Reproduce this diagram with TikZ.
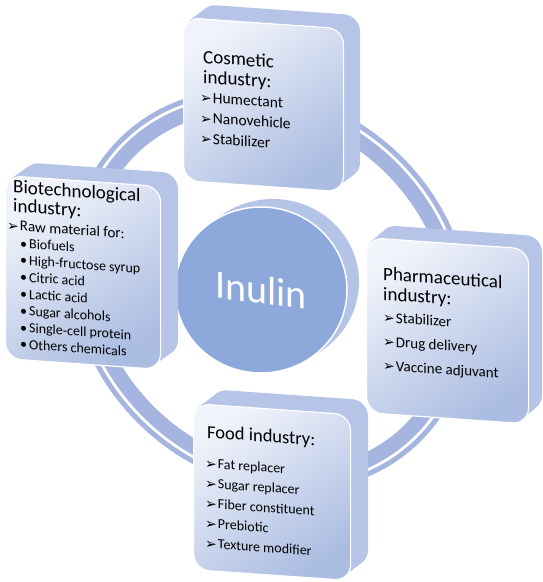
\documentclass[tikz,border=0pt]{standalone}
\usepackage{fontspec}
\setmainfont{Carlito}
\newfontfamily\dejavu{DejaVu Sans}
\usetikzlibrary{shapes.geometric}
\definecolor{ringc}{HTML}{A6B5DF}
\definecolor{sidec}{HTML}{B5C4E7}
\definecolor{facetop}{HTML}{F0F3FA}
\definecolor{facebot}{HTML}{ABBDE2}
\definecolor{circc}{HTML}{8DA8DB}
\definecolor{circside}{HTML}{B3C4E7}
\newcommand\arrmark{\raisebox{-0.5pt}{\dejavu\fontsize{14}{14}\selectfont ➢}\hspace{1pt}}
\begin{document}
\begin{tikzpicture}[x=1pt,y=1pt,
  face/.style={rounded corners=16pt, top color=facetop, bottom color=facebot,
    shading angle=35, draw=white, line width=1.2pt, inner sep=0pt, anchor=north west, transform shape},
  sideface/.style={fill=sidec, rounded corners=16pt},
  ttl/.style={anchor=base west, transform shape, font=\fontsize{19}{19}\selectfont, inner sep=0pt},
  itm/.style={anchor=base west, transform shape, inner sep=0pt},
]
\useasboundingbox (0,0) rectangle (542,-582);

% ring
\begin{scope}[rotate around={-45:(270,-290)}]
  \draw[ringc, line width=5pt] (270,-290) ellipse [x radius=211pt, y radius=185pt];
  \draw[ringc, line width=15pt] (270,-290) ellipse [x radius=198pt, y radius=172pt];
\end{scope}

% central circle
\foreach \t in {1,...,12}
  \fill[circside] ({261+12*\t/12},{-290+8*\t/12}) ellipse [x radius=86pt, y radius=83pt];
\node[ellipse, draw=white, line width=1.5pt, fill=circc, minimum width=172pt,
  minimum height=166pt, inner sep=0pt] (inulin) at (261,-290) {};
\begin{scope}[shift={(inulin.center)}, yslant=-0.13]
  \node[text=white, font=\fontsize{40}{40}\selectfont, transform shape] (inulinlbl) at (0,0) {Inulin};
\end{scope}

% Cosmetic
\begin{scope}[shift={(183,-17)}, yslant=-0.07]
  \foreach \t in {1,...,14}
    \fill[sideface] ({17*\t/14},{14*\t/14}) rectangle ++(160,-163);
  \node[face, minimum width=160pt, minimum height=163pt] (cosmetic) at (0,0) {};
  \node[ttl] (cos1) at (20,-44.6) {Cosmetic};
  \node[ttl] (cos2) at (20,-64.6) {industry:};
  \foreach \s [count=\i] in {Humectant,Nanovehicle,Stabilizer}
    \node[itm, font=\fontsize{15.5}{15.5}\selectfont] (cosi\i) at (17,{-84-20.5*(\i-1)}) {\arrmark\s};
\end{scope}

% Biotechnological
\begin{scope}[shift={(5,-175)}, yslant=-0.07]
  \foreach \t in {1,...,14}
    \fill[sideface] ({18*\t/14},{14*\t/14}) rectangle ++(155,-183);
  \node[face, minimum width=155pt, minimum height=183pt] (biotech) at (0,0) {};
  \node[ttl] (bio1) at (8,-17.4) {Biotechnological};
  \node[ttl] (bio2) at (8,-36.4) {industry:};
  \node[itm, font=\fontsize{15}{15}\selectfont] (bioraw) at (2,-54.9) {\arrmark Raw material for:};
  \foreach \s [count=\i] in {Biofuels,High-fructose syrup,Citric acid,Lactic acid,Sugar alcohols,Single-cell protein,Others chemicals}
    \node[itm, font=\fontsize{14}{14}\selectfont] (bioi\i) at (15,{-72-16.8*(\i-1)}) {•\hspace{2pt}\s};
\end{scope}

% Pharmaceutical
\begin{scope}[shift={(366,-237)}, yslant=-0.07]
  \foreach \t in {1,...,14}
    \fill[sideface] ({14*\t/14},{13*\t/14}) rectangle ++(162,-175);
  \node[face, minimum width=162pt, minimum height=175pt] (pharma) at (0,0) {};
  \node[ttl] (ph1) at (17,-41.8) {Pharmaceutical};
  \node[ttl] (ph2) at (17,-61.8) {industry:};
  \foreach \s [count=\i] in {Stabilizer,Drug delivery,Vaccine adjuvant}
    \node[itm, font=\fontsize{15}{15}\selectfont] (phi\i) at (17,{-84-24*(\i-1)}) {\arrmark\s};
\end{scope}

% Food
\begin{scope}[shift={(193,-403)}, yslant=-0.07]
  \foreach \t in {1,...,14}
    \fill[sideface] ({18*\t/14},{15*\t/14}) rectangle ++(157,-166);
  \node[face, minimum width=157pt, minimum height=166pt] (food) at (0,0) {};
  \node[ttl, font=\fontsize{18.5}{18.5}\selectfont] (fo1) at (14,-34) {Food industry:};
  \foreach \s [count=\i] in {Fat replacer,Sugar replacer,Fiber constituent,Prebiotic,Texture modifier}
    \node[itm, font=\fontsize{14}{14}\selectfont] (foi\i) at (12,{-64.2-20*(\i-1)}) {\arrmark\s};
\end{scope}
\end{tikzpicture}
\end{document}
